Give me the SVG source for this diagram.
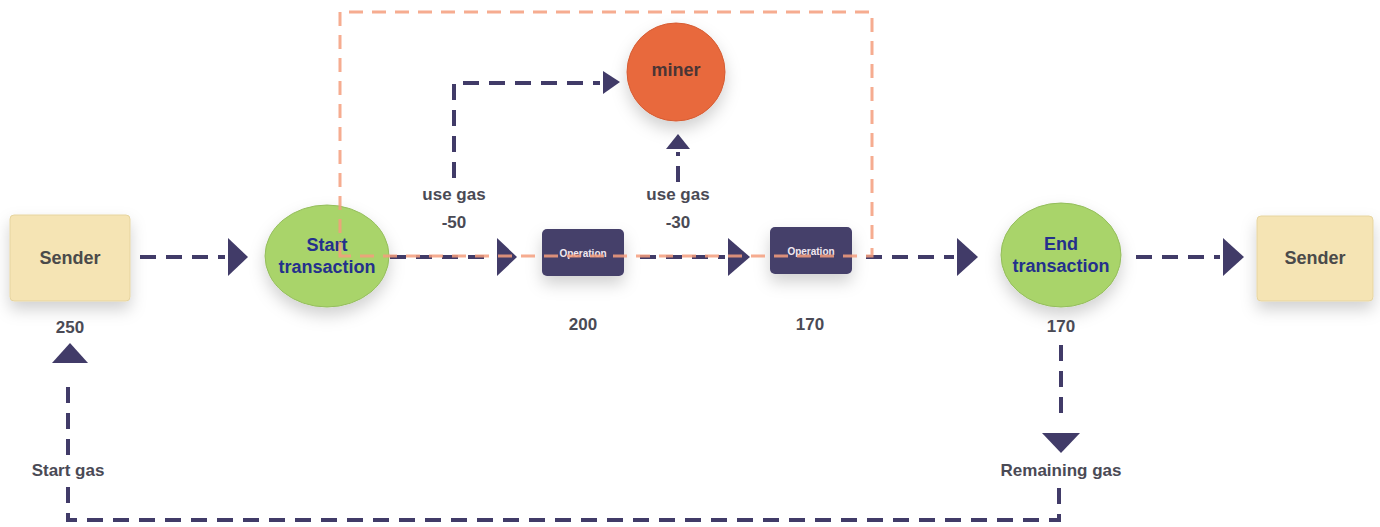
<svg xmlns="http://www.w3.org/2000/svg" width="1380" height="527" viewBox="0 0 1380 527">
<defs>
<filter id="sh" x="-40%" y="-40%" width="180%" height="200%">
<feDropShadow dx="0" dy="8" stdDeviation="8" flood-color="#000" flood-opacity="0.18"/>
</filter>
<style>
.c{fill:none;stroke:#413b68;stroke-width:4;stroke-dasharray:16 10}
.o{fill:none;stroke:#f59d7c;stroke-width:3;stroke-dasharray:14 9;opacity:0.85}
.ah{fill:#413b68}
.lbl{font-family:"Liberation Sans",Arial,sans-serif;font-weight:bold;font-size:17px;fill:#4a4a55;text-anchor:middle}
.nt{font-family:"Liberation Sans",Arial,sans-serif;font-weight:bold;font-size:18px;text-anchor:middle}
.tx{fill:#24308c}
</style>
</defs>
<g id="connectors">
<line class="c" x1="140" y1="257" x2="225" y2="257"/>
<polygon class="ah" points="228,238 248,257 228,276"/>
<line class="c" x1="390" y1="257" x2="494" y2="257"/>
<polygon class="ah" points="497,238 517,257 497,276"/>
<line class="c" x1="640" y1="257" x2="725" y2="257"/>
<polygon class="ah" points="728,238 750,257 728,276"/>
<line class="c" x1="866" y1="257" x2="954" y2="257"/>
<polygon class="ah" points="957,238 978,257 957,276"/>
<line class="c" x1="1136" y1="257" x2="1220" y2="257"/>
<polygon class="ah" points="1223,238 1244,257 1223,276"/>
<polyline class="c" points="454,178 454,83 600,83"/>
<polygon class="ah" points="603,71 620,82 603,94"/>
<line class="c" x1="678" y1="182" x2="678" y2="152"/>
<polygon class="ah" points="666,149 678,134 690,149"/>
<line class="c" x1="1061" y1="345" x2="1061" y2="418"/>
<polygon class="ah" points="1042,433 1080,433 1061,453"/>
<polyline class="c" points="1059,488 1059,520 68,520 68,478"/>
<line class="c" x1="68" y1="455" x2="68" y2="378"/>
<polygon class="ah" points="52,363 88,363 70,343"/>
</g>
<g id="sender-left">
<rect x="10" y="215" width="120" height="86" rx="4" fill="#f5e4b4" stroke="#e6d49f" filter="url(#sh)"/>
<text class="nt" x="70" y="264" fill="#4a4a4a">Sender</text>
<text class="lbl" x="70" y="333">250</text>
</g>
<g id="start-transaction">
<ellipse cx="327" cy="256" rx="62" ry="51" fill="#a9d46a" stroke="#94bd5c" filter="url(#sh)"/>
<text class="nt tx" x="327" y="251">Start</text>
<text class="nt tx" x="327" y="273">transaction</text>
</g>
<g id="operation-1">
<rect x="542" y="229" width="82" height="47" rx="5" fill="#453f6b" filter="url(#sh)"/>
<text x="583" y="257" font-family="Liberation Sans,Arial,sans-serif" font-size="10" font-weight="bold" fill="#f0e8f0" text-anchor="middle">Operation</text>
<text class="lbl" x="583" y="330">200</text>
</g>
<g id="operation-2">
<rect x="770" y="227" width="82" height="47" rx="5" fill="#453f6b" filter="url(#sh)"/>
<text x="811" y="255" font-family="Liberation Sans,Arial,sans-serif" font-size="10" font-weight="bold" fill="#f0e8f0" text-anchor="middle">Operation</text>
<text class="lbl" x="810" y="330">170</text>
</g>
<g id="miner">
<circle cx="676" cy="72" r="49" fill="#e8693d" stroke="#d55c33" filter="url(#sh)"/>
<text class="nt" x="676" y="76" fill="#4a3535">miner</text>
</g>
<g id="end-transaction">
<ellipse cx="1061" cy="255" rx="60" ry="52" fill="#a9d46a" stroke="#94bd5c" filter="url(#sh)"/>
<text class="nt tx" x="1061" y="250">End</text>
<text class="nt tx" x="1061" y="272">transaction</text>
<text class="lbl" x="1061" y="332">170</text>
</g>
<g id="sender-right">
<rect x="1257" y="216" width="116" height="85" rx="4" fill="#f5e4b4" stroke="#e6d49f" filter="url(#sh)"/>
<text class="nt" x="1315" y="264" fill="#4a4a4a">Sender</text>
</g>
<g id="boundary">
<polygon class="o" points="340,256 340,12 872,12 872,256"/>
</g>
<g id="labels">
<text class="lbl" x="454" y="200">use gas</text>
<text class="lbl" x="454" y="228">-50</text>
<text class="lbl" x="678" y="200">use gas</text>
<text class="lbl" x="678" y="228">-30</text>
<text class="lbl" x="1061" y="476" font-size="16">Remaining gas</text>
<text class="lbl" x="68" y="476" font-size="16">Start gas</text>
</g>
</svg>
